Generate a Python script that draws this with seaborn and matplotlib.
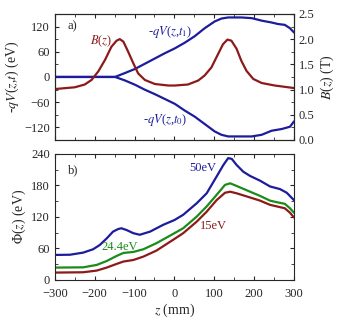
import numpy as np
import pandas as pd
import matplotlib
matplotlib.use('Agg')
import matplotlib.pyplot as plt
import seaborn as sns
from matplotlib.ticker import MultipleLocator

# panel a) potential curves (z in mm, eV)
z_t1 = [-300, -250, -200, -149, -125, -99, -75, -49, -25, 1, 26, 51, 76, 101, 118, 135,
        168, 194, 219, 244, 260, 277, 290, 300]
qv_t1 = [0, 0, 0, 0, 9, 19, 31, 44, 56, 68, 81.5, 97, 116, 132, 139, 141.6,
         141.6, 140, 134, 129.6, 126, 124, 116, 106]
z_t0 = [-300, -250, -200, -149, -125, -99, -75, -49, -25, 1, 26, 51, 76, 101, 118, 135,
        194, 219, 244, 269, 290, 300]
qv_t0 = [0, 0, 0, 0, -8, -18.5, -30, -41, -52, -64, -80, -94.5, -112, -129.6, -137.7, -141.6,
         -141.6, -137.7, -128, -124, -118.5, -106]

# magnetic field (T)
z_b = [-300, -250, -225, -208, -191, -174, -158, -145, -137, -128, -116, -103, -91, -74, -49, -15,
       1, 34, 60, 76, 93, 110, 122, 133, 143, 156, 168, 181, 198, 219, 252, 300]
b_field = [1.01, 1.045, 1.10, 1.19, 1.36, 1.59, 1.85, 1.97, 2.0, 1.95, 1.75, 1.52, 1.32, 1.19, 1.11, 1.08,
           1.08, 1.10, 1.18, 1.28, 1.44, 1.71, 1.90, 1.99, 1.97, 1.81, 1.57, 1.37, 1.21, 1.13, 1.08, 1.03]

# panel b) Phi(z) for three energies (eV)
z_50 = [-300, -262, -229, -204, -187, -170, -154, -141, -133, -120, -103, -87, -61, -28, 0,
        22, 56, 81, 106, 123, 135, 144, 156, 173, 190, 215, 240, 265, 282, 300]
phi_50 = [47.6, 48, 52, 58.4, 66.7, 79, 92, 97, 98.4, 95, 89, 86, 92, 105, 114,
          124, 146, 165, 197, 219, 232, 230.5, 219, 206, 198, 189, 178, 173, 166, 152]
z_24 = [-300, -229, -195, -170, -145, -128, -103, -78, -45, 0,
        22, 56, 81, 106, 127, 140, 156, 190, 215, 240, 257, 277, 290, 300]
phi_24 = [23.5, 24, 28.6, 36, 45.7, 51.4, 53.3, 58.4, 70, 89,
          98.4, 120.6, 140, 162, 181, 184, 179, 168, 160, 151, 148, 145, 136.5, 128]
z_15 = [-300, -229, -195, -170, -145, -128, -103, -78, -45, 0,
        22, 56, 81, 106, 127, 140, 156, 190, 215, 240, 257, 277, 290, 300]
phi_15 = [14, 14.6, 17.8, 23.5, 30.5, 35, 38, 44.4, 55.9, 78,
          89, 111, 130, 152, 166, 168, 165, 157, 151, 143, 140, 136.5, 128, 119]

blue = '#1c1c9c'
red = '#8c1a1a'
green = '#1a8c1a'

sns.set_style('ticks')
plt.rcParams['font.family'] = ['Liberation Serif', 'DejaVu Serif']
plt.rcParams['mathtext.fontset'] = 'stix'
plt.rcParams['font.size'] = 9
plt.rcParams['xtick.direction'] = 'in'
plt.rcParams['ytick.direction'] = 'in'

fig = plt.figure(figsize=(3.45, 3.24), dpi=100)
ax1 = fig.add_axes([0.159, 0.568, 0.693, 0.389])
ax2 = fig.add_axes([0.159, 0.136, 0.693, 0.389])

# panel a)
df_v = pd.DataFrame({'z': z_t1 + z_t0,
                     'v': qv_t1 + qv_t0,
                     'curve': ['t1'] * len(z_t1) + ['t0'] * len(z_t0)})
sns.lineplot(data=df_v, x='z', y='v', units='curve', estimator=None,
             color=blue, lw=1.6, ax=ax1)
axb = ax1.twinx()
sns.lineplot(x=z_b, y=b_field, color=red, lw=1.6, ax=axb)

ax1.set_xlim(-300, 300)
ax1.set_ylim(-150, 150)
axb.set_ylim(0, 2.5)
ax1.xaxis.set_major_locator(MultipleLocator(100))
ax1.xaxis.set_minor_locator(MultipleLocator(50))
ax1.yaxis.set_major_locator(MultipleLocator(60))
ax1.yaxis.set_minor_locator(MultipleLocator(30))
axb.yaxis.set_major_locator(MultipleLocator(0.5))
axb.yaxis.set_minor_locator(MultipleLocator(0.25))
ax1.tick_params(which='both', top=True, labelbottom=False, length=3)
ax1.tick_params(which='minor', length=2)
axb.tick_params(which='both', direction='in', length=3)
axb.tick_params(which='minor', length=2)
ax1.set_xlabel('')
ax1.set_ylabel('-$qV$($z$,$t$) (eV)', fontsize=10, labelpad=2)
axb.set_ylabel('$B$($z$) (T)', fontsize=10, labelpad=3)
axb.set_yticks([0, 0.5, 1.0, 1.5, 2.0, 2.5])
axb.set_yticklabels(['0.0', '0.5', '1.0', '1.5', '2.0', '2.5'])

ax1.text(-255, 121, 'a)', ha='center', va='center', fontsize=9)
ax1.text(-183, 85, '$B$($z$)', color=red, ha='center', va='center', fontsize=9)
ax1.text(-11, 106, '-$qV$($z$,$t_1$)', color=blue, ha='center', va='center', fontsize=9)
ax1.text(-24, -102, '-$qV$($z$,$t_0$)', color=blue, ha='center', va='center', fontsize=9)

# panel b)
df_p = pd.DataFrame({'z': z_50 + z_24 + z_15,
                     'phi': phi_50 + phi_24 + phi_15,
                     'energy': ['50eV'] * len(z_50) + ['24.4eV'] * len(z_24) + ['15eV'] * len(z_15)})
sns.lineplot(data=df_p, x='z', y='phi', hue='energy',
             palette={'50eV': blue, '24.4eV': green, '15eV': red},
             lw=1.6, legend=False, ax=ax2)
ax2.set_xlim(-300, 300)
ax2.set_ylim(0, 240)
ax2.xaxis.set_major_locator(MultipleLocator(100))
ax2.xaxis.set_minor_locator(MultipleLocator(50))
ax2.yaxis.set_major_locator(MultipleLocator(60))
ax2.yaxis.set_minor_locator(MultipleLocator(30))
ax2.tick_params(which='both', top=True, right=True, length=3)
ax2.tick_params(which='minor', length=2)
ax2.tick_params(axis='x', pad=6)
ax2.set_xlabel('$z$ (mm)', fontsize=10, labelpad=1)
ax2.set_ylabel('Φ($z$) (eV)', fontsize=10, labelpad=2)

ax2.text(-255, 208, 'b)', ha='center', va='center', fontsize=9)
ax2.text(72, 213, '50eV', color=blue, ha='center', va='center', fontsize=9)
ax2.text(-137, 63, '24.4eV', color=green, ha='center', va='center', fontsize=9)
ax2.text(98, 103, '15eV', color=red, ha='center', va='center', fontsize=9)

for a in (ax1, ax2, axb):
    for s in a.spines.values():
        s.set_linewidth(0.8)

fig.savefig('out.png', dpi=100)
